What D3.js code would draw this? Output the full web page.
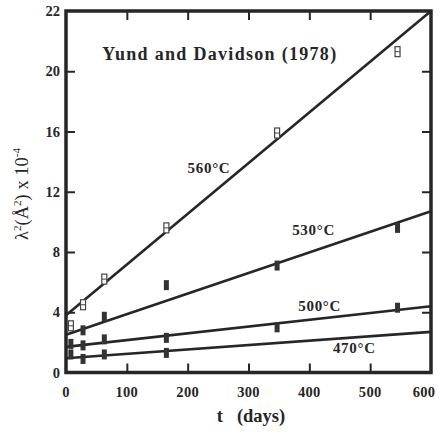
<!DOCTYPE html>
<html><head><meta charset="utf-8">
<script src="https://cdn.jsdelivr.net/npm/d3@7"></script>
<style>body{margin:0;background:#fff}svg{display:block}</style>
</head><body><svg id="c" width="440" height="435"></svg>
<script>
const days = [8, 28, 63, 165, 347, 545];
const seriesNames = ["560°C", "530°C", "500°C", "470°C"];
const values560 = [3.1, 4.5, 6.2, 9.6, 15.9, 21.3];
const values530 = [null, 2.8, 3.7, 5.8, 7.1, 9.6];
const values500 = [1.9, 1.8, 2.2, 2.3, 3.0, 4.3];
const values470 = [1.2, 0.9, 1.2, 1.3, null, null];
const fitDays = [0, 600];
const fit560 = [3.8, 24];
const fit530 = [2.5, 10.7];
const fit500 = [1.7, 4.4];
const fit470 = [0.95, 2.7];
const xTicks = [0, 100, 200, 300, 400, 500, 600];
const xTickLabels = ["0", "100", "200", "300", "400", "500", "600"];
const yTicks = [0, 4, 8, 12, 16, 20, 24];
const yTickLabels = ["0", "4", "8", "12", "16", "20", "22"];
const title = "Yund and Davidson (1978)";

const W = 440, H = 435;
const m = {l: 66, r: 9, t: 11, b: 62.5};
const svg = d3.select("#c");
const x = d3.scaleLinear().domain([0, 600]).range([m.l, W - m.r]);
const y = d3.scaleLinear().domain([0, 24]).range([H - m.b, m.t]);
const ink = "#262626";
const serif = "'Liberation Serif','DejaVu Serif',serif";

const tl = 9;
const inner = xTicks.slice(1, -1), innerY = yTicks.slice(1, -1);
function styleAxis(g){ g.select(".domain").remove(); g.selectAll("line").attr("stroke", ink).attr("stroke-width", 2); g.selectAll("text").remove(); }
svg.append("g").attr("transform", `translate(0,${y(0)})`).call(d3.axisTop(x).tickValues(inner).tickSize(tl)).call(styleAxis);
svg.append("g").attr("transform", `translate(0,${y(24)})`).call(d3.axisBottom(x).tickValues(inner).tickSize(tl)).call(styleAxis);
svg.append("g").attr("transform", `translate(${x(0)},0)`).call(d3.axisRight(y).tickValues(innerY).tickSize(tl)).call(styleAxis);
svg.append("g").attr("transform", `translate(${x(600)},0)`).call(d3.axisLeft(y).tickValues(innerY).tickSize(tl)).call(styleAxis);

svg.append("rect").attr("x", x(0)).attr("y", y(24)).attr("width", x(600) - x(0)).attr("height", y(0) - y(24))
  .attr("fill", "none").attr("stroke", ink).attr("stroke-width", 3.5);

svg.append("g").selectAll("text").data(xTicks).join("text")
  .attr("x", d => Math.min(x(d), W - 16)).attr("y", y(0) + 24).attr("text-anchor", "middle")
  .attr("font-family", serif).attr("font-weight", "bold").attr("font-size", 14.5).attr("letter-spacing", 0.3).attr("fill", ink)
  .text((d, i) => xTickLabels[i]);
svg.append("g").selectAll("text").data(yTicks).join("text")
  .attr("x", x(0) - 6).attr("y", d => y(d) + 5).attr("text-anchor", "end")
  .attr("font-family", serif).attr("font-weight", "bold").attr("font-size", 14.5).attr("fill", ink)
  .text((d, i) => yTickLabels[i]);

const xt = svg.append("text").attr("x", 251).attr("y", 422).attr("text-anchor", "middle")
  .attr("font-family", serif).attr("font-weight", "bold").attr("font-size", 18.5).attr("fill", ink);
xt.append("tspan").text("t");
xt.append("tspan").attr("dx", 14).text("(days)");

const yt = svg.append("text").attr("transform", `translate(28,${194}) rotate(-90)`).attr("text-anchor", "middle")
  .attr("font-family", serif).attr("font-size", 18.5).attr("fill", ink);
yt.append("tspan").text("λ");
yt.append("tspan").attr("dy", -7).attr("font-size", 11).text("2");
yt.append("tspan").attr("dy", 7).text("(Å");
yt.append("tspan").attr("dy", -7).attr("font-size", 11).text("2");
yt.append("tspan").attr("dy", 7).text(") x 10");
yt.append("tspan").attr("dy", -8).attr("font-size", 11).text("-4");

const fits = [fit560, fit530, fit500, fit470];
const line = d3.line().x((d, i) => x(fitDays[i])).y(d => y(d));
svg.append("g").selectAll("path").data(fits).join("path")
  .attr("d", d => line(d)).attr("fill", "none").attr("stroke", ink).attr("stroke-width", 2.6);

const allVals = [values560, values530, values500, values470];
allVals.forEach((vals, si) => {
  const pts = days.map((t, i) => ({t, v: vals[i]})).filter(p => p.v != null);
  const g = svg.append("g");
  if (si === 0) {
    g.selectAll("rect").data(pts).join("rect")
      .attr("x", p => x(p.t) - 2.5).attr("y", p => y(p.v) - 5).attr("width", 5).attr("height", 10)
      .attr("fill", "#fff").attr("stroke", "#444").attr("stroke-width", 1.2);
    g.selectAll("line").data(pts).join("line")
      .attr("x1", p => x(p.t) - 2.5).attr("x2", p => x(p.t) + 2.5).attr("y1", p => y(p.v)).attr("y2", p => y(p.v))
      .attr("stroke", "#444").attr("stroke-width", 1);
  } else {
    g.selectAll("rect").data(pts).join("rect")
      .attr("x", p => x(p.t) - 2.5).attr("y", p => y(p.v) - 5).attr("width", 5).attr("height", 10)
      .attr("fill", "#333");
  }
});

const labelPos = [[235, 13.25], [407, 9.1], [417, 4.05], [474, 1.3]];
svg.append("g").selectAll("text").data(seriesNames).join("text")
  .attr("x", (d, i) => x(labelPos[i][0])).attr("y", (d, i) => y(labelPos[i][1])).attr("text-anchor", "middle")
  .attr("font-family", serif).attr("font-weight", "bold").attr("font-size", 15).attr("letter-spacing", 0.7).attr("fill", ink)
  .text(d => d);

svg.append("text").attr("x", x(253)).attr("y", y(20.75)).attr("text-anchor", "middle")
  .attr("font-family", serif).attr("font-weight", "bold").attr("font-size", 18).attr("letter-spacing", 1.3).attr("fill", ink)
  .text(title);
</script></body></html>
